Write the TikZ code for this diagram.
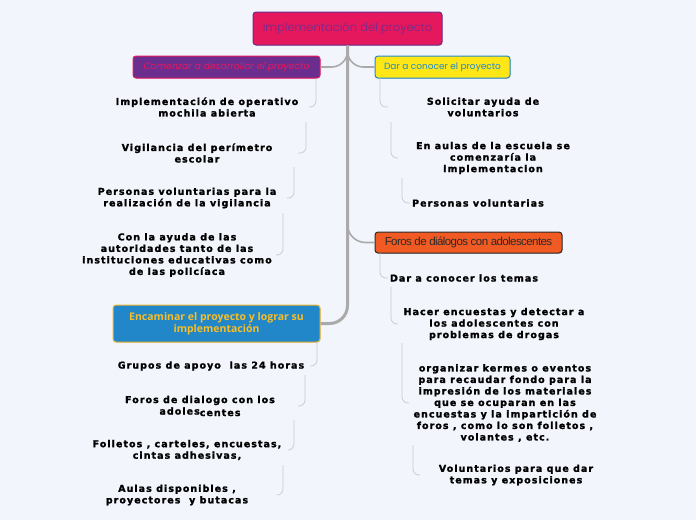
\documentclass[tikz,border=0pt]{standalone}
\usepackage{fontspec}
\setmainfont{DejaVu Sans}
\newfontfamily\titlefont{Poppins Light}
\newfontfamily\subtfont{Poppins}
\newfontfamily\leaffont{DejaVu Sans Bold}[LetterSpace=11, FakeBold=1.6]
\newfontfamily\encfont{Open Sans}
\newfontfamily\forosfont[LetterSpace=-5]{Liberation Sans}
\usetikzlibrary{positioning,shadows}
\definecolor{bgcol}{HTML}{F3F5FD}
\definecolor{rootred}{HTML}{E6185D}
\definecolor{rootpurple}{HTML}{6B2D8E}
\definecolor{dyellow}{HTML}{FFE717}
\definecolor{dblue}{HTML}{1E88D0}
\definecolor{forange}{HTML}{F15A22}
\definecolor{fdark}{HTML}{2A2A2A}
\definecolor{eblue}{HTML}{2187C9}
\definecolor{egold}{HTML}{F2B62D}
\definecolor{etext}{HTML}{F9BE25}
\definecolor{linegray}{HTML}{AAAAAA}
\definecolor{subgray}{HTML}{C9C9CE}

\begin{document}
\begin{tikzpicture}[x=1pt,y=-1pt,
	every node/.style = {align=center},
	topic/.style = {shape=rectangle, rounded corners=3pt, draw, line width=1pt,
		inner sep=0pt, drop shadow={opacity=0.25, shadow xshift=0.6pt, shadow yshift=-0.8pt}},
	leaf/.style = {font=\leaffont\fontsize{9.5}{11.5}\selectfont, inner sep=2pt},
	trunk/.style = {draw=linegray, line width=3pt, rounded corners=18pt},
	branch/.style = {draw=linegray, line width=1.6pt, rounded corners=16pt},
	sub/.style = {draw=subgray, line width=0.7pt, rounded corners=6pt}]
	\fill[bgcol] (0,0) rectangle (696,520);

	% main topics
	\node[topic, fill=rootred, draw=rootpurple, text=rootpurple,
		minimum width=189pt, minimum height=33pt,
		font=\titlefont\fontsize{11.5}{14}\selectfont] (root) at (347.5,28.5)
		{Implementación del proyecto};
	\node[topic, fill=rootpurple, draw=rootred, text=rootred,
		minimum width=187pt, minimum height=22pt,
		font=\subtfont\itshape\fontsize{9.3}{10}\selectfont] (comenzar) at (226.5,67)
		{Comenzar a desarrollar el proyecto};
	\node[topic, fill=dyellow, draw=dblue, text=dblue,
		minimum width=135pt, minimum height=22pt,
		font=\subtfont\fontsize{9}{10}\selectfont] (darconocer) at (442.5,67)
		{Dar a conocer el proyecto};
	\node[topic, fill=forange, draw=fdark, text=fdark,
		minimum width=187pt, minimum height=21pt,
		font=\forosfont\fontsize{11.5}{12}\selectfont] (foros) at (468.5,242.5)
		{Foros de diálogos con adolescentes};
	\node[topic, fill=eblue, draw=egold, text=etext,
		minimum width=207pt, minimum height=37pt,
		font=\encfont\bfseries\fontsize{10.5}{12}\selectfont] (encaminar) at (216.5,323.5)
		{Encaminar el proyecto y lograr su\\implementación};

	% trunk and branches
	\draw[trunk] (root.south) |- (encaminar.east);
	\draw[branch] (root.south) |- (comenzar.east);
	\draw[branch] (root.south) |- (darconocer.west);
	\draw[branch, rounded corners=18pt] (root.south) |- (foros.west);

	% subtopics
	\node[leaf] (c1) at (207,107) {Implementación de operativo\\mochila abierta};
	\node[leaf] (c2) at (197,153) {Vigilancia del perímetro\\escolar};
	\node[leaf] (c3) at (187,198) {Personas voluntarias para la\\realización de la vigilancia};
	\node[leaf] (c4) at (177,255) {Con la ayuda de las\\autoridades tanto de las\\instituciones educativas como\\de las policíaca};
	\node[leaf] (d1) at (483,107) {Solicitar ayuda de\\voluntarios};
	\node[leaf] (d2) at (493,158) {En aulas de la escuela se\\comenzaría la\\implementacion};
	\node[leaf] (d3) at (478,203) {Personas voluntarias};
	\node[leaf] (f1) at (464,278) {Dar a conocer los temas};
	\node[leaf] (f2) at (494,324) {Hacer encuestas y detectar a\\los adolescentes con\\problemas de drogas};
	\node[leaf] (f3) at (505,403) {organizar kermes o eventos\\para recaudar fondo para la\\impresión de los materiales\\que se ocuparan en las\\encuestas y la impartición de\\foros , como lo son folletos ,\\volantes , etc.};
	\node[leaf] (f4) at (516,475) {Voluntarios para que dar\\temas y exposiciones};
	\node[leaf] (e1) at (211,366) {Grupos de apoyo ~las 24 horas};
	\node[leaf] (e2) at (200,406) {Foros de dialogo con los\\adoles\raisebox{-1.5pt}{centes}};
	\node[leaf] (e3) at (187,450) {Folletos , carteles, encuestas,\\cintas adhesivas,};
	\node[leaf] (e4) at (177,495) {Aulas disponibles ,\\proyectores ~y butacas};

	% subtopic connectors
	\coordinate (c1s) at (316,78);
	\coordinate (c2s) at (306,122);
	\coordinate (c3s) at (294,167);
	\coordinate (c4s) at (283,213);
	\coordinate (d1s) at (380,78);
	\coordinate (d2s) at (391,122);
	\coordinate (d3s) at (402,178);
	\coordinate (f1s) at (380,253);
	\coordinate (f2s) at (391,287);
	\coordinate (f3s) at (402,343);
	\coordinate (f4s) at (413,445);
	\coordinate (e1s) at (317,342);
	\coordinate (e2s) at (305,375);
	\coordinate (e3s) at (294,420);
	\coordinate (e4s) at (283,465);
	\draw[sub] (c1s) |- ([xshift=-7pt]c1s |- c1);
	\draw[sub] (c2s) |- ([xshift=-8pt]c2s |- c2);
	\draw[sub] (c3s) |- ([xshift=-7pt]c3s |- c3);
	\draw[sub] (c4s) |- ([xshift=-7pt]c4s |- c4);
	\draw[sub] (d1s) |- ([xshift=8pt]d1s |- d1);
	\draw[sub] (d2s) |- ([xshift=7pt]d2s |- d2);
	\draw[sub] (d3s) |- ([xshift=8pt]d3s |- d3);
	\draw[sub] (f1s) |- ([xshift=8pt]f1s |- f1);
	\draw[sub] (f2s) |- ([xshift=7pt]f2s |- f2);
	\draw[sub] (f3s) |- ([xshift=7pt]f3s |- f3);
	\draw[sub] (f4s) |- ([xshift=7pt]f4s |- f4);
	\draw[sub] (e1s) |- ([xshift=-7pt]e1s |- e1);
	\draw[sub] (e2s) |- ([xshift=-7pt]e2s |- e2);
	\draw[sub] (e3s) |- ([xshift=-6pt]e3s |- e3);
	\draw[sub] (e4s) |- ([xshift=-6pt]e4s |- e4);
\end{tikzpicture}
\end{document}
